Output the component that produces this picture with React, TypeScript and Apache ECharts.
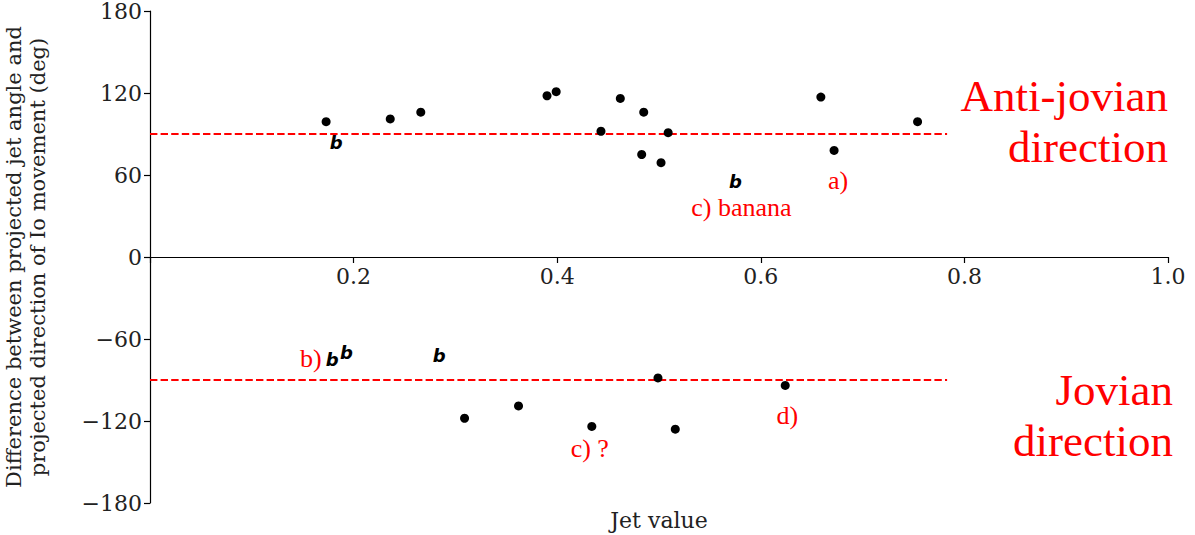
import React, { useEffect, useRef } from "react";
import * as echarts from "echarts";

// Black dots: [jet value, angle difference]
const dotsUpper: [number, number][] = [
  [0.173, 99], [0.236, 101], [0.266, 106], [0.39, 118], [0.399, 121],
  [0.443, 92], [0.462, 116], [0.485, 106], [0.483, 75], [0.509, 91],
  [0.502, 69], [0.659, 117], [0.672, 78], [0.754, 99],
];
const dotsLower: [number, number][] = [
  [0.309, -118], [0.362, -109], [0.434, -124], [0.499, -88.5],
  [0.516, -126], [0.624, -94],
];
// "b" markers
const bPoints: [number, number][] = [
  [0.183, 84], [0.575, 55], [0.179, -75], [0.193, -70], [0.284, -72],
];
// reference lines
const antiJovianLine: [number, number][] = [[0, 90], [0.783, 90]];
const jovianLine: [number, number][] = [[0, -90], [0.783, -90]];
// small annotations: [x, y, text]
const annotations: [number, number, string][] = [
  [0.676, 56, "a)"],
  [0.581, 36, "c) banana"],
  [0.158, -74, "b)"],
  [0.432, -140, "c) ?"],
  [0.626, -116, "d)"],
];
// big right-aligned labels: [x, y, text]
const bigLabels: [number, number, string][] = [
  [1.0, 99, "Anti-jovian\ndirection"],
  [1.0, -116, "Jovian\ndirection"],
];
const xTicks = { min: 0, max: 1, interval: 0.2 };
const yTicks = { min: -180, max: 180, interval: 60 };

export default function App() {
  const ref = useRef<HTMLDivElement>(null);
  useEffect(() => {
    if (!ref.current) return;
    const chart = echarts.init(ref.current, null, { renderer: "svg" });
    const serif = "DejaVu Serif";
    const red = "#ff0000";
    const gridTop = 11;
    const gridBottom = 32;
    const plotH = 535 - gridTop - gridBottom;
    // place the x axis at y = 0 (middle of the symmetric y range)
    const zeroOffset = -plotH * (0 - yTicks.min) / (yTicks.max - yTicks.min);
    chart.setOption({
      animation: false,
      backgroundColor: "#ffffff",
      grid: {
        left: 150, right: 27, top: gridTop, bottom: gridBottom,
        containLabel: false, outerBoundsMode: "none",
      },
      xAxis: {
        type: "value",
        min: xTicks.min,
        max: xTicks.max,
        interval: xTicks.interval,
        position: "bottom",
        offset: zeroOffset,
        splitLine: { show: false },
        axisLine: { onZero: false, lineStyle: { color: "#000", width: 1.2 } },
        axisTick: { show: true, length: 6, lineStyle: { color: "#000", width: 1.2 } },
        axisLabel: {
          color: "#222",
          fontFamily: serif,
          fontSize: 22,
          margin: 8,
          formatter: (v: number) => (v === 0 ? "" : v.toFixed(1)),
        },
      },
      yAxis: {
        type: "value",
        min: yTicks.min,
        max: yTicks.max,
        interval: yTicks.interval,
        splitLine: { show: false },
        axisLine: { show: true, onZero: false, lineStyle: { color: "#000", width: 1.2 } },
        axisTick: { show: true, length: 6, lineStyle: { color: "#000", width: 1.2 } },
        axisLabel: {
          color: "#222",
          fontFamily: serif,
          fontSize: 22,
          margin: 8,
          formatter: (v: number) => (v < 0 ? "\u2212" + Math.abs(v) : String(v)),
        },
        name: "Difference between projected jet angle and\nprojected direction of Io movement (deg)",
        nameLocation: "middle",
        nameGap: 100,
        nameTextStyle: { color: "#222", fontFamily: serif, fontSize: 21, lineHeight: 24, align: "center" },
      },
      graphic: [
        {
          type: "text",
          x: 659,
          y: 520,
          style: {
            text: "Jet value",
            fontFamily: serif,
            fontSize: 22,
            fill: "#222",
            align: "center",
            verticalAlign: "middle",
          },
        },
      ],
      series: [
        {
          type: "line",
          data: antiJovianLine,
          symbol: "none",
          lineStyle: { color: red, width: 2, type: [7.4, 3.2] },
          z: 1,
        },
        {
          type: "line",
          data: jovianLine,
          symbol: "none",
          lineStyle: { color: red, width: 2, type: [7.4, 3.2] },
          z: 1,
        },
        {
          type: "scatter",
          data: [...dotsUpper, ...dotsLower],
          symbol: "circle",
          symbolSize: 9,
          itemStyle: { color: "#000", opacity: 1 },
          z: 3,
        },
        {
          type: "scatter",
          data: bPoints,
          symbolSize: 0,
          itemStyle: { opacity: 1 },
          label: {
            show: true,
            position: "inside",
            formatter: "b",
            fontFamily: "DejaVu Sans",
            fontStyle: "italic",
            fontWeight: "bold",
            fontSize: 18,
            color: "#000",
          },
          z: 3,
        },
        {
          type: "scatter",
          data: annotations.map((a) => ({ value: [a[0], a[1]], name: a[2] })),
          symbolSize: 0,
          itemStyle: { opacity: 1 },
          label: {
            show: true,
            position: "inside",
            formatter: (p: any) => p.name,
            fontFamily: "Liberation Serif",
            fontSize: 26,
            color: red,
          },
          z: 3,
        },
        {
          type: "scatter",
          data: bigLabels.map((a, i) => ({
            value: [a[0], a[1]],
            name: a[2],
            label: i === 1 ? { offset: [5, 0] } : undefined,
          })),
          symbolSize: 0,
          clip: false,
          itemStyle: { opacity: 1 },
          label: {
            show: true,
            position: "left",
            distance: 0,
            align: "right",
            formatter: (p: any) => p.name,
            fontFamily: "Liberation Serif",
            fontSize: 45,
            lineHeight: 51,
            color: red,
          },
          z: 3,
        },
      ],
    });
    return () => chart.dispose();
  }, []);
  return (
    <div
      ref={ref}
      style={{ position: "fixed", left: 0, top: 0, width: 1195, height: 535, background: "#fff" }}
    />
  );
}
